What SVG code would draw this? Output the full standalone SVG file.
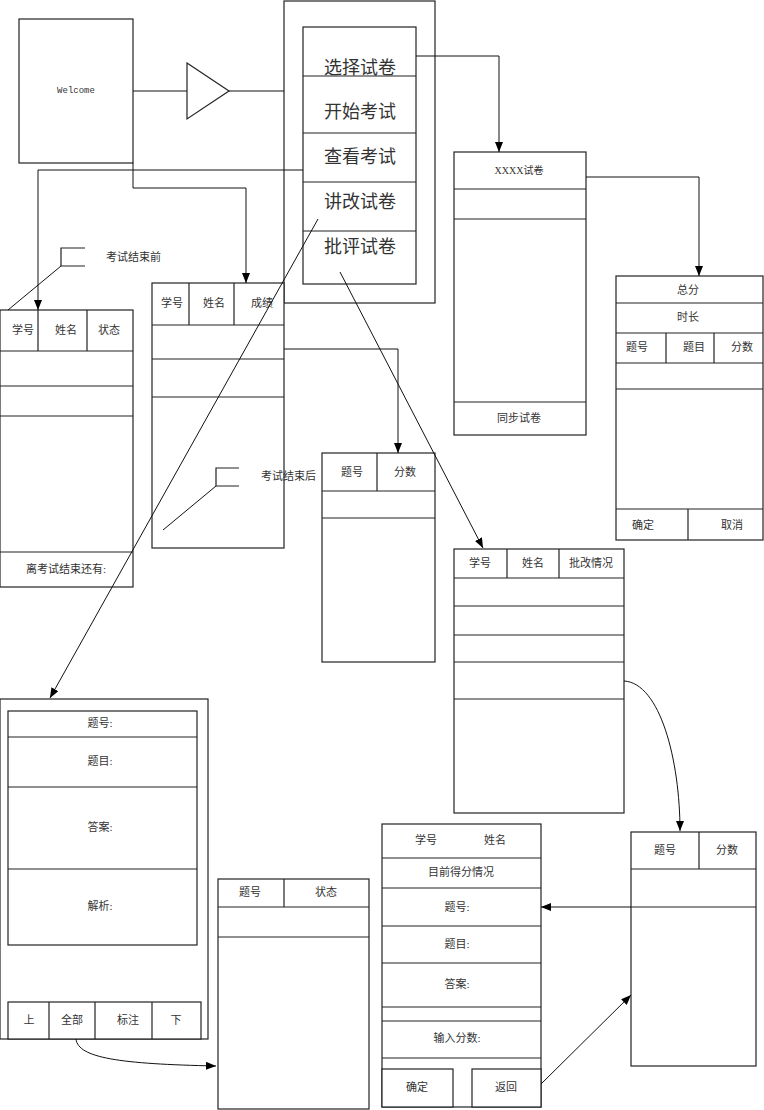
<svg xmlns="http://www.w3.org/2000/svg" width="764" height="1110" viewBox="0 0 764 1110">
<style>
.b{fill:#fff;stroke:#222;stroke-width:1.2}
.l{fill:none;stroke:#222;stroke-width:1.2}
.c{fill:none;stroke:#111;stroke-width:1}
.t{font-family:"Liberation Serif","Noto Sans CJK SC",serif;font-size:11px;fill:#333;text-anchor:middle;dominant-baseline:central}
.m{font-family:"Noto Sans CJK SC",sans-serif;font-size:18px;fill:#333;text-anchor:middle;dominant-baseline:central}
.s{text-anchor:start}
</style>
<defs>
<marker id="arr" viewBox="0 0 10 8" refX="10" refY="4" markerWidth="10" markerHeight="8" markerUnits="userSpaceOnUse" orient="auto"><path d="M0,0 L10,4 L0,8 z" fill="#000"/></marker>
</defs>
<rect width="764" height="1110" fill="#fff"/>

<g id="welcome">
<rect class="b" x="19" y="19" width="114" height="144"/>
<text class="t" x="76" y="91" style="font-family:'Liberation Mono','DejaVu Sans Mono',monospace;font-size:9px">Welcome</text>
</g>

<g id="triangle">
<polygon class="b" points="187,63 229,91 187,119"/>
</g>

<g id="menu">
<rect class="b" x="284" y="1" width="151" height="302"/>
<rect class="b" x="303" y="27" width="113" height="257"/>
<line class="l" x1="303" y1="76" x2="416" y2="76"/>
<line class="l" x1="303" y1="133" x2="416" y2="133"/>
<line class="l" x1="303" y1="182" x2="416" y2="182"/>
<line class="l" x1="303" y1="231" x2="416" y2="231"/>
<text class="m" x="360" y="66">选择试卷</text>
<text class="m" x="360" y="110">开始考试</text>
<text class="m" x="360" y="155">查看考试</text>
<text class="m" x="360" y="200">讲改试卷</text>
<text class="m" x="360" y="245">批评试卷</text>
</g>

<g id="status-panel">
<rect class="b" x="0" y="310" width="133" height="277"/>
<line class="l" x1="0" y1="351" x2="133" y2="351"/>
<line class="l" x1="0" y1="386" x2="133" y2="386"/>
<line class="l" x1="0" y1="416" x2="133" y2="416"/>
<line class="l" x1="0" y1="552" x2="133" y2="552"/>
<line class="l" x1="38" y1="310" x2="38" y2="351"/>
<line class="l" x1="87" y1="310" x2="87" y2="351"/>
<text class="t" x="23" y="330">学号</text>
<text class="t" x="66" y="330">姓名</text>
<text class="t" x="109" y="330">状态</text>
<text class="t" x="66" y="569">离考试结束还有:</text>
</g>

<g id="note-before">
<path class="l" d="M85,248 H61 V266 H85"/>
<line class="c" x1="61" y1="266" x2="8" y2="310"/>
<text class="t s" x="106" y="257">考试结束前</text>
</g>

<g id="score-panel">
<rect class="b" x="152" y="283" width="132" height="265"/>
<line class="l" x1="152" y1="325" x2="284" y2="325"/>
<line class="l" x1="152" y1="359" x2="284" y2="359"/>
<line class="l" x1="152" y1="397" x2="284" y2="397"/>
<line class="l" x1="189" y1="283" x2="189" y2="325"/>
<line class="l" x1="234" y1="283" x2="234" y2="325"/>
<text class="t" x="172" y="303">学号</text>
<text class="t" x="214" y="303">姓名</text>
<text class="t" x="262" y="303">成绩</text>
</g>

<g id="note-after">
<path class="l" d="M239,468 H216 V486 H239"/>
<line class="c" x1="216" y1="486" x2="163" y2="530"/>
<text class="t s" x="261" y="476">考试结束后</text>
</g>

<g id="detail-panel">
<rect class="b" x="322" y="453" width="113" height="209"/>
<line class="l" x1="322" y1="491" x2="435" y2="491"/>
<line class="l" x1="322" y1="518" x2="435" y2="518"/>
<line class="l" x1="377" y1="453" x2="377" y2="491"/>
<text class="t" x="352" y="472">题号</text>
<text class="t" x="405" y="472">分数</text>
</g>

<g id="paper-panel">
<rect class="b" x="454" y="152" width="132" height="283"/>
<line class="l" x1="454" y1="189" x2="586" y2="189"/>
<line class="l" x1="454" y1="219" x2="586" y2="219"/>
<line class="l" x1="454" y1="402" x2="586" y2="402"/>
<text class="t" x="519" y="170" style="font-size:10px">XXXX试卷</text>
<text class="t" x="519" y="418">同步试卷</text>
</g>

<g id="total-panel">
<rect class="b" x="616" y="276" width="147" height="264"/>
<line class="l" x1="616" y1="303" x2="763" y2="303"/>
<line class="l" x1="616" y1="333" x2="763" y2="333"/>
<line class="l" x1="616" y1="363" x2="763" y2="363"/>
<line class="l" x1="616" y1="389" x2="763" y2="389"/>
<line class="l" x1="616" y1="509" x2="763" y2="509"/>
<line class="l" x1="666" y1="333" x2="666" y2="363"/>
<line class="l" x1="714" y1="333" x2="714" y2="363"/>
<line class="l" x1="688" y1="509" x2="688" y2="540"/>
<text class="t" x="688" y="290">总分</text>
<text class="t" x="688" y="317">时长</text>
<text class="t" x="637" y="347">题号</text>
<text class="t" x="694" y="347">题目</text>
<text class="t" x="742" y="347">分数</text>
<text class="t" x="643" y="525">确定</text>
<text class="t" x="732" y="525">取消</text>
</g>

<g id="grading-list">
<rect class="b" x="454" y="549" width="170" height="264"/>
<line class="l" x1="454" y1="578" x2="624" y2="578"/>
<line class="l" x1="454" y1="606" x2="624" y2="606"/>
<line class="l" x1="454" y1="635" x2="624" y2="635"/>
<line class="l" x1="454" y1="662" x2="624" y2="662"/>
<line class="l" x1="454" y1="699" x2="624" y2="699"/>
<line class="l" x1="507" y1="549" x2="507" y2="578"/>
<line class="l" x1="559" y1="549" x2="559" y2="578"/>
<text class="t" x="480" y="563">学号</text>
<text class="t" x="533" y="563">姓名</text>
<text class="t" x="591" y="563">批改情况</text>
</g>

<g id="question-panel">
<rect class="b" x="0" y="699" width="208" height="340"/>
<rect class="b" x="8" y="711" width="189" height="234"/>
<line class="l" x1="8" y1="737" x2="197" y2="737"/>
<line class="l" x1="8" y1="787" x2="197" y2="787"/>
<line class="l" x1="8" y1="869" x2="197" y2="869"/>
<rect class="b" x="8" y="1002" width="193" height="37"/>
<line class="l" x1="49" y1="1002" x2="49" y2="1039"/>
<line class="l" x1="95" y1="1002" x2="95" y2="1039"/>
<line class="l" x1="152" y1="1002" x2="152" y2="1039"/>
<text class="t" x="100" y="723">题号:</text>
<text class="t" x="100" y="761">题目:</text>
<text class="t" x="100" y="827">答案:</text>
<text class="t" x="100" y="906">解析:</text>
<text class="t" x="29" y="1020">上</text>
<text class="t" x="72" y="1020">全部</text>
<text class="t" x="128" y="1020">标注</text>
<text class="t" x="176" y="1020">下</text>
</g>

<g id="state-panel">
<rect class="b" x="218" y="879" width="151" height="230"/>
<line class="l" x1="218" y1="907" x2="369" y2="907"/>
<line class="l" x1="218" y1="937" x2="369" y2="937"/>
<line class="l" x1="284" y1="879" x2="284" y2="907"/>
<text class="t" x="250" y="892">题号</text>
<text class="t" x="326" y="892">状态</text>
</g>

<g id="grading-panel">
<rect class="b" x="382" y="824" width="159" height="283"/>
<line class="l" x1="382" y1="858" x2="541" y2="858"/>
<line class="l" x1="382" y1="888" x2="541" y2="888"/>
<line class="l" x1="382" y1="926" x2="541" y2="926"/>
<line class="l" x1="382" y1="963" x2="541" y2="963"/>
<line class="l" x1="382" y1="1007" x2="541" y2="1007"/>
<line class="l" x1="382" y1="1021" x2="541" y2="1021"/>
<line class="l" x1="382" y1="1058" x2="541" y2="1058"/>
<rect class="b" x="382" y="1069" width="71" height="38"/>
<rect class="b" x="472" y="1069" width="69" height="38"/>
<text class="t" x="426" y="840">学号</text>
<text class="t" x="495" y="840">姓名</text>
<text class="t" x="461" y="872">目前得分情况</text>
<text class="t" x="457" y="907">题号:</text>
<text class="t" x="457" y="944">题目:</text>
<text class="t" x="457" y="984">答案:</text>
<text class="t" x="457" y="1038">输入分数:</text>
<text class="t" x="417" y="1087">确定</text>
<text class="t" x="506" y="1087">返回</text>
</g>

<g id="score-list">
<rect class="b" x="631" y="832" width="125" height="234"/>
<line class="l" x1="631" y1="869" x2="756" y2="869"/>
<line class="l" x1="631" y1="907" x2="756" y2="907"/>
<line class="l" x1="699" y1="832" x2="699" y2="869"/>
<text class="t" x="665" y="850">题号</text>
<text class="t" x="727" y="850">分数</text>
</g>

<g id="connectors">
<line class="c" x1="133" y1="91" x2="187" y2="91"/>
<line class="c" x1="229" y1="91" x2="284" y2="91"/>
<path class="c" d="M416,56 H499 V152" marker-end="url(#arr)"/>
<path class="c" d="M303,170 H38 V310" marker-end="url(#arr)"/>
<path class="c" d="M133,163 V188 H246 V283" marker-end="url(#arr)"/>
<path class="c" d="M284,349 H398 V453" marker-end="url(#arr)"/>
<path class="c" d="M586,177 H699 V276" marker-end="url(#arr)"/>
<line class="c" x1="340" y1="272" x2="483" y2="548" marker-end="url(#arr)"/>
<line class="c" x1="318" y1="219" x2="50" y2="698" marker-end="url(#arr)"/>
<path class="c" d="M624,681 C660,683 680,760 680,831" marker-end="url(#arr)"/>
<line class="c" x1="631" y1="907" x2="541" y2="907" marker-end="url(#arr)"/>
<line class="c" x1="541" y1="1084" x2="631" y2="995" marker-end="url(#arr)"/>
<path class="c" d="M76,1039 C78,1058 120,1064 216,1066" marker-end="url(#arr)"/>
</g>
</svg>
